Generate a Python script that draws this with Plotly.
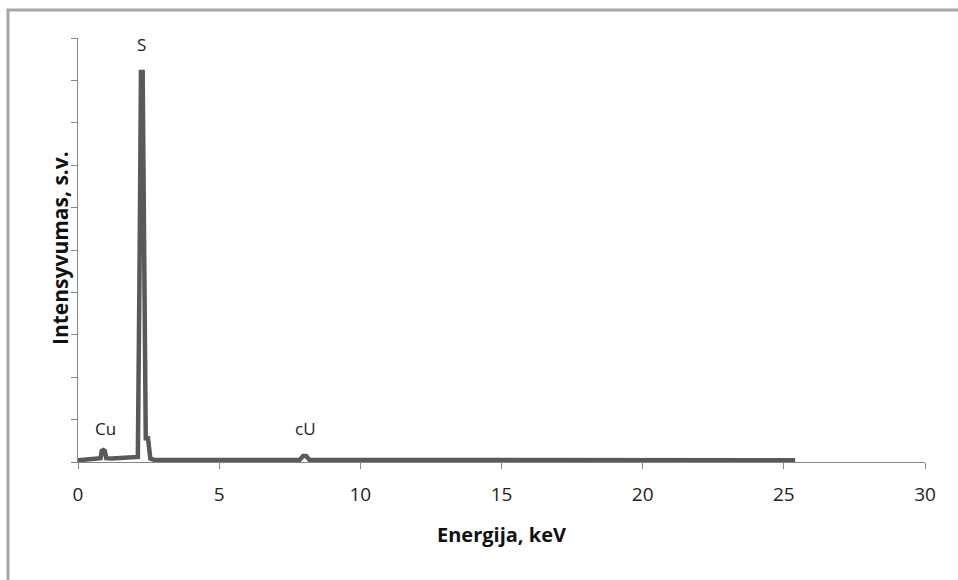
import plotly.graph_objects as go

# EDS spectrum: energy (keV) vs. intensity (arbitrary units, axis 0..10)
energy_kev = [0.0, 0.3, 0.5, 0.7, 0.80, 0.84, 0.90, 0.95, 1.0, 1.2, 1.6, 2.0, 2.12,
              2.18, 2.23, 2.29, 2.35, 2.40, 2.48, 2.56, 2.7, 4.0, 6.0, 7.85, 7.97,
              8.08, 8.2, 10.0, 12.0, 15.0, 20.0, 25.4]
intensity = [0.04, 0.06, 0.05, 0.08, 0.09, 0.26, 0.28, 0.26, 0.09, 0.08, 0.09, 0.10, 0.12,
             4.6, 9.2, 9.2, 4.6, 0.56, 0.56, 0.08, 0.05, 0.05, 0.05, 0.05, 0.14,
             0.14, 0.05, 0.05, 0.05, 0.04, 0.04, 0.04]

# Peak labels: element, energy position, label height
peak_names = ["S", "Cu", "cU"]
peak_x = [2.25, 0.98, 8.05]
peak_y = [9.85, 0.78, 0.78]

x_title = "Energija, keV"
y_title = "Intensyvumas, s.v."
x_ticks = [0, 5, 10, 15, 20, 25, 30]

W, H = 958, 580
ML, MR, MT, MB = 78, 33, 38, 118
PW, PH = W - ML - MR, H - MT - MB


def px_to_paper(px, py):
    return (px - ML) / PW, (H - MB - py) / PH


fig = go.Figure()
fig.add_trace(go.Scatter(
    x=energy_kev, y=intensity, mode="lines",
    line=dict(color="#595959", width=4.5),
    hoverinfo="skip", showlegend=False,
))

for name, xv, yv in zip(peak_names, peak_x, peak_y):
    fig.add_annotation(x=xv, y=yv, text=name, showarrow=False,
                       font=dict(family="Open Sans", size=17, color="#222222"))

tx, ty = px_to_paper(60, 248)
fig.add_annotation(xref="paper", yref="paper", x=tx, y=ty, xanchor="center", yanchor="middle",
                   text="<b>" + y_title + "</b>", textangle=-90, showarrow=False,
                   font=dict(family="Open Sans", size=21, color="#111111"))

# outer chart frame
x0, y0 = px_to_paper(8, 10)
x1, y1 = px_to_paper(970, 600)
fig.add_shape(type="rect", xref="paper", yref="paper", x0=x0, y0=y1, x1=x1, y1=y0,
              line=dict(color="#a6a6a6", width=3), layer="below")

fig.update_layout(
    width=W, height=H,
    margin=dict(l=ML, r=MR, t=MT, b=MB),
    paper_bgcolor="white", plot_bgcolor="white",
    font=dict(family="Open Sans", color="#222222"),
    xaxis=dict(range=[0, 30], tickvals=x_ticks, ticktext=[str(v) for v in x_ticks],
               showgrid=False, zeroline=False, showline=True, linecolor="#868686",
               linewidth=1, ticks="outside", ticklen=6, tickcolor="#868686",
               ticklabelstandoff=9,
               tickfont=dict(size=19, color="#222222"),
               title=dict(text="<b>" + x_title + "</b>", standoff=22,
                          font=dict(size=20, color="#111111"))),
    yaxis=dict(range=[0, 10], dtick=1, showticklabels=False, showgrid=False,
               zeroline=False, showline=True, linecolor="#868686", linewidth=1,
               ticks="outside", ticklen=6, tickcolor="#868686"),
)

fig.write_html("out.html")
